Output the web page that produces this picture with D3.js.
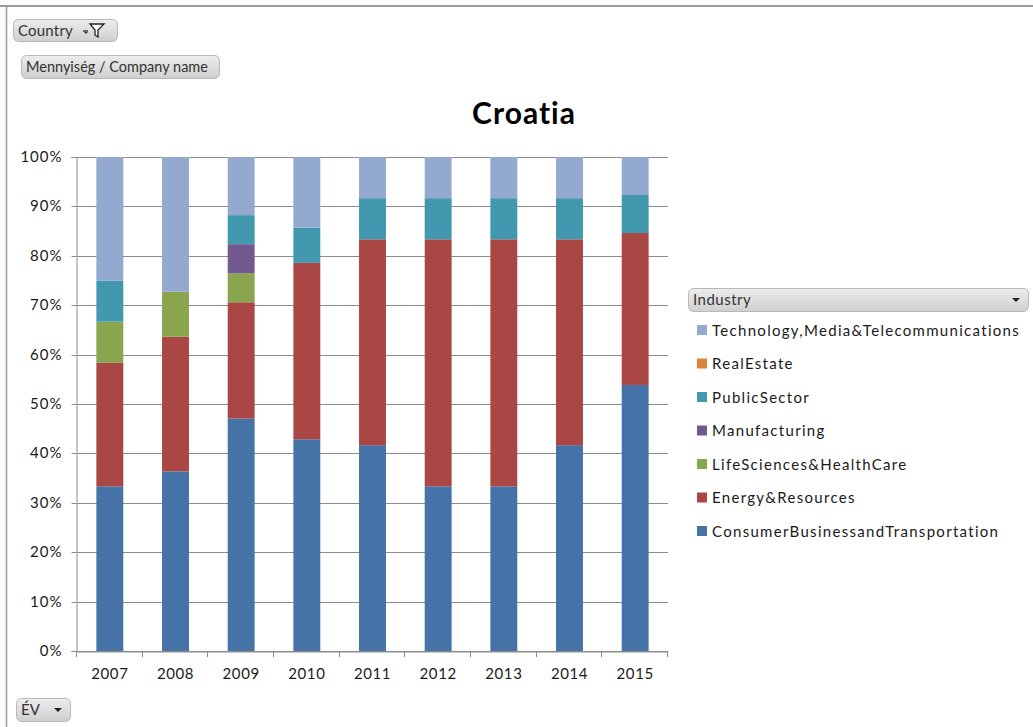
<!DOCTYPE html>
<html><head><meta charset="utf-8">
<script src="https://cdn.jsdelivr.net/npm/d3@7"></script>
<style>
html,body{margin:0;padding:0;background:#fff;}
svg{display:block;}
</style></head>
<body>
<script>
const years = ["2007","2008","2009","2010","2011","2012","2013","2014","2015"];
// company counts per industry per year (stacked to 100%)
const consumerBusiness = [4,4,8,6,5,4,4,5,7];
const energyResources  = [3,3,4,5,5,6,6,5,4];
const lifeSciences     = [1,1,1,0,0,0,0,0,0];
const manufacturing    = [0,0,1,0,0,0,0,0,0];
const publicSector     = [1,0,1,1,1,1,1,1,1];
const realEstate       = [0,0,0,0,0,0,0,0,0];
const technologyMedia  = [3,3,2,2,1,1,1,1,1];
const seriesNames = ["ConsumerBusinessandTransportation","Energy&Resources","LifeSciences&HealthCare","Manufacturing","PublicSector","RealEstate","Technology,Media&Telecommunications"];
const seriesValues = [consumerBusiness, energyResources, lifeSciences, manufacturing, publicSector, realEstate, technologyMedia];
const seriesColors = ["#4572A7","#AA4643","#89A54E","#71588F","#4198AF","#DB843D","#93A9CF"];
const yTicks = [0,0.1,0.2,0.3,0.4,0.5,0.6,0.7,0.8,0.9,1];
const title = "Croatia";

const W = 1033, H = 727;
const font = "Lato, 'Open Sans', 'Liberation Sans', sans-serif";
const svg = d3.select("body").append("svg").attr("width", W).attr("height", H);

// frame lines
svg.append("line").attr("x1",0).attr("x2",W).attr("y1",6).attr("y2",6).attr("stroke","#9a9a9a").attr("stroke-width",2);
svg.append("line").attr("x1",6.5).attr("x2",6.5).attr("y1",6).attr("y2",H).attr("stroke","#9a9a9a").attr("stroke-width",1.5);

const defs = svg.append("defs");
const grad = defs.append("linearGradient").attr("id","btn").attr("x1",0).attr("x2",0).attr("y1",0).attr("y2",1);
grad.append("stop").attr("offset","0%").attr("stop-color","#ededed");
grad.append("stop").attr("offset","100%").attr("stop-color","#cfcfcf");

function button(x, y, w, h, label, arrow, filter, fs, ls) {
  const g = svg.append("g").attr("transform", `translate(${x},${y})`);
  g.append("rect").attr("x",0.5).attr("y",0.5).attr("width",w).attr("height",h).attr("rx",5)
    .attr("fill","url(#btn)").attr("stroke","#b8b8b8");
  g.append("text").attr("x",5).attr("y",h/2+5.5).attr("font-family",font).attr("font-size",fs)
    .attr("letter-spacing", (ls||0)+"px").attr("fill","#333").text(label);
  if (arrow) {
    const ax = w - 12;
    g.append("path").attr("d",`M${ax-4},${h/2-1.5}L${ax+4},${h/2-1.5}L${ax},${h/2+2.5}Z`).attr("fill","#222");
  }
  if (filter) {
    g.append("path").attr("d",`M${w-34},${h/2+1}L${w-29},${h/2+1}`).attr("stroke","#333").attr("stroke-width",1.4);
    g.append("path").attr("d",`M${w-33},${h/2+2}L${w-29},${h/2+2}L${w-31},${h/2+4}Z`).attr("fill","#333");
    g.append("path").attr("d",`M${w-27},${h/2-6}L${w-13},${h/2-6}L${w-19},${h/2}L${w-19},${h/2+7}L${w-22},${h/2+5}L${w-22},${h/2}Z`)
      .attr("fill","#fff").attr("stroke","#222").attr("stroke-width",1.3);
  }
  return g;
}
button(13, 19, 104, 22, "Country", false, true, 15, 0.2);
button(21, 55, 198, 23, "Mennyiség / Company name", false, false, 14.5, 0);
button(16, 698, 54, 23, "ÉV", true, false, 15, 0);

// chart
const plot = {left: 77, right: 668, top: 157, bottom: 651};
const x = d3.scaleBand().domain(years).range([plot.left, plot.right]).paddingInner(0.59).paddingOuter(0.295);
const y = d3.scaleLinear().domain([0,1]).range([plot.bottom, plot.top]);

const table = years.map((yr,i) => {
  const row = {year: yr};
  seriesNames.forEach((n,k) => row[n] = seriesValues[k][i]);
  return row;
});
const stack = d3.stack().keys(seriesNames).offset(d3.stackOffsetExpand);
const layers = stack(table);

// gridlines
svg.append("g").selectAll("line").data(yTicks).join("line")
  .attr("x1", plot.left).attr("x2", plot.right)
  .attr("y1", d => Math.round(y(d))+0.5).attr("y2", d => Math.round(y(d))+0.5)
  .attr("stroke","#8c8c8c").attr("stroke-width",1);

// bars
svg.append("g").selectAll("g").data(layers).join("g")
  .attr("fill", (d,i) => seriesColors[i])
  .selectAll("rect").data(d => d).join("rect")
  .attr("x", d => x(d.data.year))
  .attr("width", x.bandwidth())
  .attr("y", d => y(d[1]))
  .attr("height", d => Math.max(0, y(d[0]) - y(d[1])));

// y axis
const yAxis = d3.axisLeft(y).tickValues(yTicks).tickFormat(d3.format(".0%")).tickSize(5).tickPadding(9);
const ya = svg.append("g").attr("transform",`translate(${plot.left-0.5},0)`).call(yAxis);
ya.select(".domain").attr("stroke","#8c8c8c");
ya.selectAll(".tick line").attr("stroke","#8c8c8c");
ya.selectAll("text").attr("font-family",font).attr("font-size",15).attr("letter-spacing","1px").attr("fill","#1a1a1a");
ya.selectAll(".tick").attr("transform", d => `translate(0,${Math.round(y(d))+0.5})`);

// x axis
const xa = svg.append("g").attr("transform",`translate(0,${plot.bottom+0.5})`).call(d3.axisBottom(x).tickSize(0).tickPadding(17));
xa.select(".domain").attr("stroke","#8c8c8c");
xa.selectAll("text").attr("font-family",font).attr("font-size",15).attr("letter-spacing","0.6px").attr("fill","#1a1a1a");
const xTickPos = d3.range(years.length+1).map(i => plot.left + i*(plot.right-plot.left)/years.length);
svg.append("g").selectAll("line").data(xTickPos).join("line")
  .attr("x1", d => Math.round(d)-0.5).attr("x2", d => Math.round(d)-0.5)
  .attr("y1", plot.bottom).attr("y2", plot.bottom+6).attr("stroke","#8c8c8c");

// title
svg.append("text").attr("x", 524).attr("y", 124).attr("text-anchor","middle")
  .attr("font-family",font).attr("font-weight","bold").attr("font-size",30).attr("letter-spacing","1px").attr("fill","#000").text(title);

// legend
button(688, 288, 340, 23, "Industry", true, false, 15, 0.5);
const legendOrder = seriesNames.map((n,i)=>i).reverse();
const leg = svg.append("g").selectAll("g").data(legendOrder).join("g")
  .attr("transform", (d,i) => `translate(697,${330 + i*33.5})`);
leg.append("rect").attr("x",0).attr("y",-5).attr("width",10).attr("height",10).attr("fill", d => seriesColors[d]);
leg.append("text").attr("x",15).attr("y",5.5).attr("font-family",font).attr("font-size",15)
  .attr("letter-spacing","1.3px").attr("fill","#1a1a1a").text(d => seriesNames[d]);
</script>
</body></html>
